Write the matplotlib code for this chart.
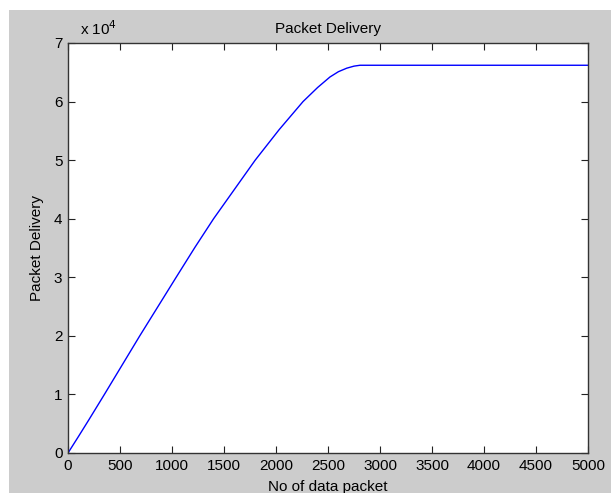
import matplotlib
matplotlib.use("Agg")
import matplotlib.pyplot as plt
from matplotlib.patches import Rectangle

# values
packets = [0, 100, 200, 350, 690, 1040, 1220, 1400, 1600, 1800, 2030, 2260, 2400, 2519, 2600, 2680, 2750, 2808, 5000]
delivery = [0, 2800, 5650, 10000, 20000, 30000, 35100, 40000, 45000, 50000, 55200, 60000, 62400, 64200, 65100, 65700, 66050, 66200, 66200]
yticks = [0, 10000, 20000, 30000, 40000, 50000, 60000, 70000]
ytick_labels = ["0", "1", "2", "3", "4", "5", "6", "7"]
xticks = [0, 500, 1000, 1500, 2000, 2500, 3000, 3500, 4000, 4500, 5000]

plt.rcParams['font.family'] = ['Liberation Sans', 'DejaVu Sans']
plt.rcParams['font.size'] = 11

W, H = 611, 493
fig = plt.figure(figsize=(W / 100, H / 100), dpi=100, facecolor="white")
# grey matlab window background (screenshot has a white strip top/left)
fig.patches.append(Rectangle((9 / W, 0), 1 - 9 / W, (H - 10) / H,
                             transform=fig.transFigure, facecolor="#cccccc",
                             edgecolor="none", zorder=-10))

ax = fig.add_axes([68 / W, (H - 453) / H, 520 / W, 410 / H])
ax.set_facecolor("white")
ax.plot(packets, delivery, color="#0000ff", lw=1.0)

ax.set_xlim(0, 5000)
ax.set_ylim(0, 70000)
ax.set_xticks(xticks)
ax.set_xticklabels([str(x) for x in xticks])
ax.set_yticks(yticks)
ax.set_yticklabels(ytick_labels)
ax.tick_params(direction="in", length=5, width=0.8, top=True, right=True,
               colors="#222222", labelcolor="black", pad=4)
for sp in ax.spines.values():
    sp.set_color("#333333")
    sp.set_linewidth(1.0)

ax.set_title("Packet Delivery", fontsize=11, pad=7)
ax.set_xlabel("No of data packet", labelpad=5)
ax.set_ylabel("Packet Delivery", labelpad=7)
fig.text(80 / W, 1 - 29 / H, r"x 10$^{4}$", fontsize=11, ha="left", va="center")

fig.savefig("out.png", dpi=100, facecolor=fig.get_facecolor())
